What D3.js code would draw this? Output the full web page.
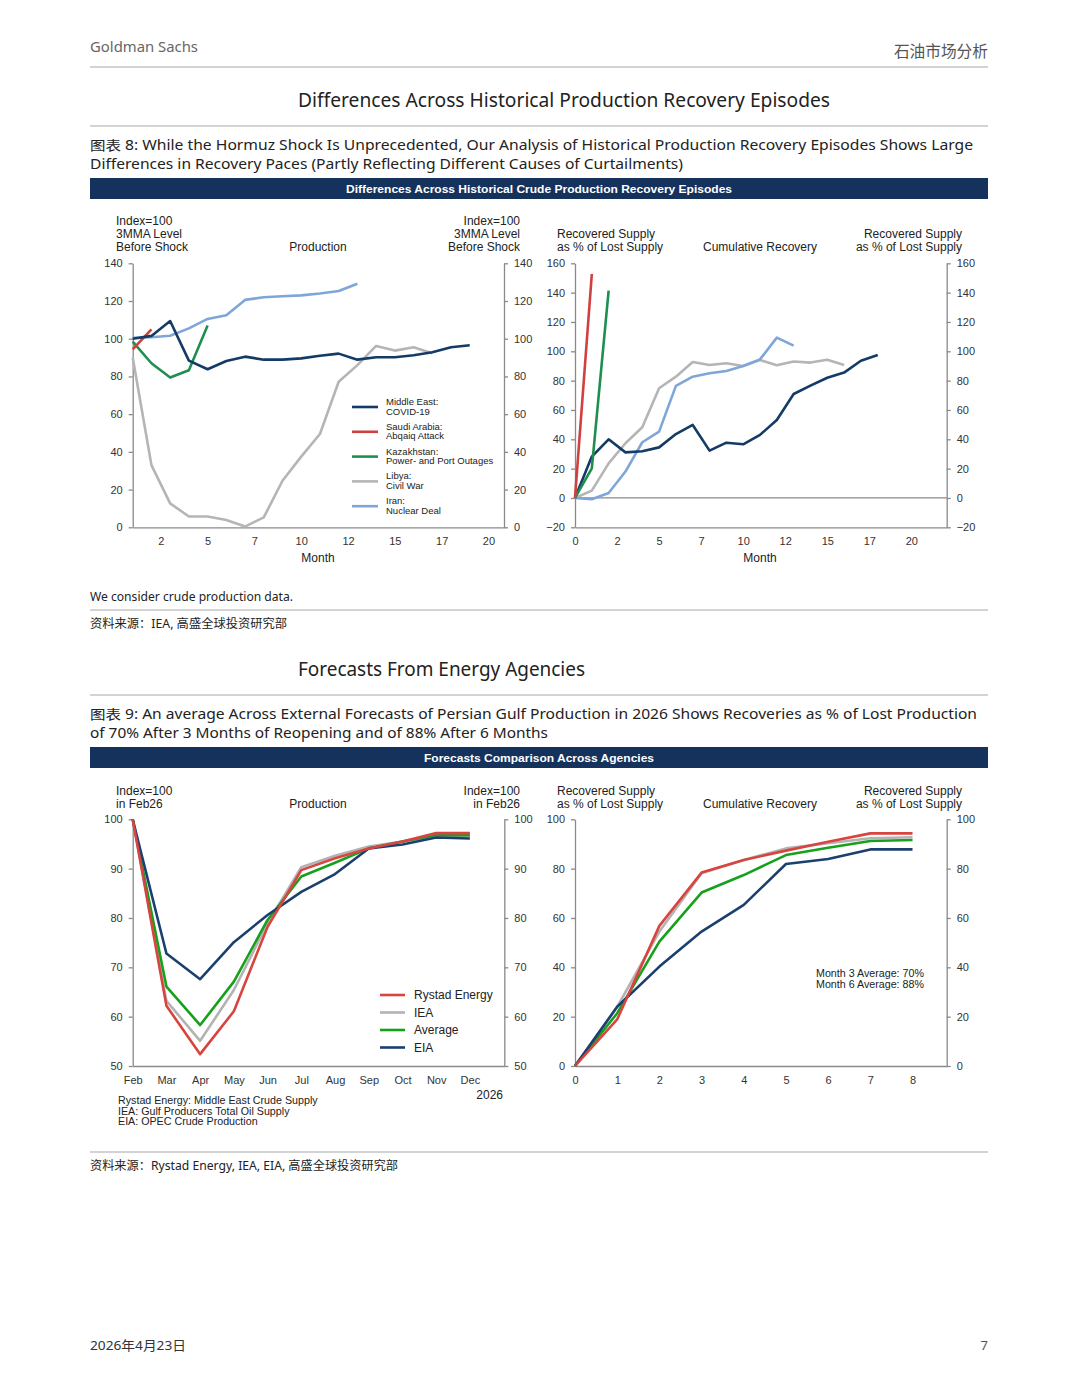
<!DOCTYPE html>
<html lang="en">
<head>
<meta charset="UTF-8">
<title>Oil recovery episodes</title>
<script src="https://d3js.org/d3.v7.min.js"></script>
<style>
  body { margin: 0; background: #fff; }
  svg text { font-family: "Liberation Sans", Arial, sans-serif; }
  .doc { font-family: "Noto Sans", "Noto Sans CJK SC", sans-serif !important; }
  .cjk { font-family: "Noto Sans CJK SC", sans-serif !important; }
  .axis path, .axis line { stroke: #8a8a8a; stroke-width: 1.3; }
  .axis text { font-size: 11px; fill: #333; font-family: "Liberation Sans", Arial, sans-serif; }
</style>
</head>
<body>
<svg id="page" width="1080" height="1398"></svg>
<script>
// ---- chart 8: historical episodes (months from 1 on the production panel, from 0 on the recovery panel)
const episodeNames = ['Middle East:|COVID-19', 'Saudi Arabia:|Abqaiq Attack', 'Kazakhstan:|Power- and Port Outages', 'Libya:|Civil War', 'Iran:|Nuclear Deal'];
const episodeColors = ['#143a66', '#cf4040', '#1f8f50', '#b5b5b5', '#7fa6d8'];

const prodMidEast = [100, 101.5, 109.4, 88.4, 83.8, 88.2, 90.5, 88.9, 88.9, 89.6, 91, 92.1, 88.9, 90.2, 90.2, 91.2, 92.8, 95.5, 96.5];
const prodSaudi = [94.4, 105];
const prodKazakh = [98.5, 87, 79.4, 83.3, 107];
const prodLibya = [90, 33, 12.7, 5.7, 5.7, 3.9, 0.4, 5.3, 24.7, 37.5, 49.5, 77.2, 86, 96.2, 93.7, 95.5, 92.3];
const prodIran = [100.5, 100.8, 101.6, 105.5, 110.5, 112.4, 120.6, 122, 122.5, 123, 124, 125.3, 129.2];

const recMidEast = [0, 28.2, 40, 31.1, 31.8, 34.5, 43.6, 49.8, 32.3, 37.7, 36.6, 43, 53.2, 70.9, 76.6, 82, 85.5, 93.6, 97.5];
const recSaudi = [0, 152.7];
const recKazakh = [0, 20.2, 141.4];
const recLibya = [0, 5, 23.6, 37.3, 48.2, 74.8, 82.7, 92.7, 90.7, 91.8, 90, 94, 90.5, 93, 92.3, 94.3, 90.7];
const recIran = [0, -0.9, 3.4, 18, 38, 45.2, 76.4, 82.7, 85, 86.6, 90, 94.5, 109.3, 103.9];

const histMonthTicks = [2.5, 5, 7.5, 10, 12.5, 15, 17.5, 20];
const prodTicks = [0, 20, 40, 60, 80, 100, 120, 140];
const recTicks = [-20, 0, 20, 40, 60, 80, 100, 120, 140, 160];

// ---- chart 9: agency forecasts for 2026
const monthLabels = ['Feb', 'Mar', 'Apr', 'May', 'Jun', 'Jul', 'Aug', 'Sep', 'Oct', 'Nov', 'Dec'];
const agencyNames = ['Rystad Energy', 'IEA', 'Average', 'EIA'];
const agencyColors = ['#d8443f', '#b3b3b3', '#17a01c', '#1b3f6e'];

const fcRystad = [100, 62.2, 52.4, 61.1, 78.2, 89.7, 92.1, 94.1, 95.5, 97.2, 97.2];
const fcIEA = [100, 63.2, 55.1, 65.4, 78.9, 90.3, 92.6, 94.5, 95.5, 96.6, 96.6];
const fcAverage = [100, 66.1, 58.3, 67.1, 79.6, 88.4, 91.2, 94.1, 95.5, 96.8, 96.8];
const fcEIA = [100, 72.8, 67.6, 75.1, 80.6, 85.3, 88.9, 94.1, 94.9, 96.3, 96.1];

const cumRystad = [0, 18.9, 56.8, 78.4, 83.5, 87.3, 90.9, 94.3, 94.3];
const cumIEA = [0, 24, 54.5, 78.1, 83.5, 88.2, 90.3, 92.3, 92.7];
const cumAverage = [0, 21.4, 50.4, 70.3, 77.4, 85.5, 88.5, 91.2, 91.6];
const cumEIA = [0, 24, 40.3, 54.5, 65.3, 81.9, 83.9, 87.8, 87.8];

const fcTicks = [50, 60, 70, 80, 90, 100];
const cumTicks = [0, 20, 40, 60, 80, 100];
const cumMonthTicks = [0, 1, 2, 3, 4, 5, 6, 7, 8];

const svg = d3.select('#page');

function txt(x, y, s, o = {}) {
  const t = svg.append('text')
    .attr('x', x).attr('y', y)
    .attr('font-size', o.size || 12)
    .attr('fill', o.fill || '#222')
    .attr('text-anchor', o.anchor || 'start')
    .text(s);
  if (o.cls) t.attr('class', o.cls);
  if (o.weight) t.attr('font-weight', o.weight);
  if (o.len) t.attr('textLength', o.len).attr('lengthAdjust', 'spacingAndGlyphs');
  return t;
}
function rule(y) {
  svg.append('line').attr('x1', 90).attr('x2', 988).attr('y1', y).attr('y2', y)
    .attr('stroke', '#a8a8a8').attr('stroke-width', 1.2);
}
function banner(y, s, len) {
  svg.append('rect').attr('x', 90).attr('y', y).attr('width', 898).attr('height', 21).attr('fill', '#14325c');
  txt(539, y + 14.5, s, { size: 11, fill: '#fff', anchor: 'middle', weight: 'bold', len: len });
}
// figure caption, two lines; sizes kept so the line boxes do not touch
function caption(y, line1, len1, line2, len2) {
  txt(90, y, '图表', { cls: 'cjk', size: 12.8, fill: '#222', len: 31 });
  txt(125, y, line1, { cls: 'doc', size: 13.8, fill: '#222', len: len1 });
  txt(90, y + 19, line2, { cls: 'doc', size: 13.8, fill: '#222', len: len2 });
}

// ---- page furniture
txt(90, 52, 'Goldman Sachs', { cls: 'doc', size: 15, fill: '#666', len: 108 });
txt(988, 57, '石油市场分析', { cls: 'doc', size: 15.7, fill: '#555', anchor: 'end' });
rule(67);
txt(298, 107, 'Differences Across Historical Production Recovery Episodes', { cls: 'doc', size: 20, fill: '#222', len: 532 });
rule(126);
caption(150, '8: While the Hormuz Shock Is Unprecedented, Our Analysis of Historical Production Recovery Episodes Shows Large', 848,
  'Differences in Recovery Paces (Partly Reflecting Different Causes of Curtailments)', 593);
banner(178, 'Differences Across Historical Crude Production Recovery Episodes', 386);

txt(90, 601, 'We consider crude production data.', { cls: 'doc', size: 12.5, fill: '#222', len: 203 });
rule(610);
txt(90, 628, '资料来源：IEA, 高盛全球投资研究部', { cls: 'doc', size: 12, fill: '#222', len: 197 });
txt(298, 676, 'Forecasts From Energy Agencies', { cls: 'doc', size: 20, fill: '#222', len: 287 });
rule(695);
caption(719, '9: An average Across External Forecasts of Persian Gulf Production in 2026 Shows Recoveries as % of Lost Production', 852,
  'of 70% After 3 Months of Reopening and of 88% After 6 Months', 458);
banner(747, 'Forecasts Comparison Across Agencies', 230);

rule(1152);
txt(90, 1170, '资料来源：Rystad Energy, IEA, EIA, 高盛全球投资研究部', { cls: 'doc', size: 12, fill: '#222', len: 308 });
txt(90, 1350, '2026年4月23日', { cls: 'doc', size: 13, fill: '#333', len: 96 });
txt(988, 1350, '7', { cls: 'doc', size: 13, fill: '#555', anchor: 'end' });

// ---- generic panel
function panel(cfg) {
  const x = d3.scaleLinear().domain(cfg.xDomain).range([cfg.left, cfg.right]);
  const y = d3.scaleLinear().domain(cfg.yDomain).range([cfg.bottom, cfg.top]);

  const la = svg.append('g').attr('class', 'axis').attr('transform', `translate(${cfg.left},0)`)
    .call(d3.axisLeft(y).tickValues(cfg.yTicks).tickSize(4).tickSizeOuter(0).tickPadding(6));
  const ra = svg.append('g').attr('class', 'axis').attr('transform', `translate(${cfg.right},0)`)
    .call(d3.axisRight(y).tickValues(cfg.yTicks).tickSize(4).tickSizeOuter(0).tickPadding(6));
  svg.append('g').attr('class', 'axis').attr('transform', `translate(0,${cfg.bottom})`)
    .call(d3.axisBottom(x).tickValues(cfg.xTicks).tickSize(0).tickSizeOuter(0).tickPadding(10)
      .tickFormat(cfg.xFormat || (d => d)));
  [la, ra].forEach(a => a.selectAll('text').text(d => d < 0 ? '\u2212' + Math.abs(d) : d));

  if (cfg.zeroLine) {
    svg.append('line').attr('x1', cfg.left).attr('x2', cfg.right)
      .attr('y1', y(0)).attr('y2', y(0)).attr('stroke', '#8a8a8a').attr('stroke-width', 1.2);
  }

  const line = d3.line().x(d => x(d[0])).y(d => y(d[1]));
  cfg.series.forEach((s, i) => {
    const pts = s.map((v, k) => [k + cfg.x0, v]);
    svg.append('path').datum(pts).attr('d', line)
      .attr('fill', 'none').attr('stroke', cfg.colors[i]).attr('stroke-width', 2.6)
      .attr('stroke-linejoin', 'round');
  });
  return { x, y };
}

// ---- chart 8 left: production
panel({
  left: 132.7, right: 504, top: 263.3, bottom: 527.3,
  xDomain: [1, 20.83], yDomain: [0, 140], yTicks: prodTicks,
  xTicks: histMonthTicks, xFormat: d => Math.floor(d), x0: 1,
  series: [prodLibya, prodIran, prodKazakh, prodSaudi, prodMidEast],
  colors: [episodeColors[3], episodeColors[4], episodeColors[2], episodeColors[1], episodeColors[0]]
});
['Index=100', '3MMA Level', 'Before Shock'].forEach((s, i) => {
  txt(116, 225 + i * 13, s);
  txt(520, 225 + i * 13, s, { anchor: 'end' });
});
txt(318, 251, 'Production', { anchor: 'middle' });
txt(318, 562, 'Month', { anchor: 'middle' });

episodeNames.forEach((n, i) => {
  const ly = 407 + i * 24.8;
  svg.append('line').attr('x1', 352).attr('x2', 378).attr('y1', ly).attr('y2', ly)
    .attr('stroke', episodeColors[i]).attr('stroke-width', 2.6);
  const parts = n.split('|');
  txt(386, ly - 2, parts[0], { size: 9.5 });
  txt(386, ly + 7.5, parts[1], { size: 9.5 });
});

// ---- chart 8 right: cumulative recovery
panel({
  left: 575, right: 946.7, top: 263.3, bottom: 527.3,
  xDomain: [0, 22.1], yDomain: [-20, 160], yTicks: recTicks, zeroLine: true,
  xTicks: [0].concat(histMonthTicks), xFormat: d => Math.floor(d), x0: 0,
  series: [recLibya, recIran, recMidEast, recKazakh, recSaudi],
  colors: [episodeColors[3], episodeColors[4], episodeColors[0], episodeColors[2], episodeColors[1]]
});
['Recovered Supply', 'as % of Lost Supply'].forEach((s, i) => {
  txt(557, 238 + i * 13, s);
  txt(962, 238 + i * 13, s, { anchor: 'end' });
});
txt(760, 251, 'Cumulative Recovery', { anchor: 'middle' });
txt(760, 562, 'Month', { anchor: 'middle' });

// ---- chart 9 left: production forecasts
panel({
  left: 132.7, right: 504.3, top: 819.3, bottom: 1066,
  xDomain: [0, 11.02], yDomain: [50, 100], yTicks: fcTicks,
  xTicks: d3.range(monthLabels.length), xFormat: d => monthLabels[d], x0: 0,
  series: [fcIEA, fcAverage, fcEIA, fcRystad],
  colors: [agencyColors[1], agencyColors[2], agencyColors[3], agencyColors[0]]
});
['Index=100', 'in Feb26'].forEach((s, i) => {
  txt(116, 795 + i * 13, s);
  txt(520, 795 + i * 13, s, { anchor: 'end' });
});
txt(318, 808, 'Production', { anchor: 'middle' });
txt(503, 1099, '2026', { anchor: 'end' });
['Rystad Energy: Middle East Crude Supply', 'IEA: Gulf Producers Total Oil Supply', 'EIA: OPEC Crude Production']
  .forEach((s, i) => txt(118, 1104 + i * 10.5, s, { size: 10.7 }));

agencyNames.forEach((n, i) => {
  const ly = 995 + i * 17.5;
  svg.append('line').attr('x1', 380).attr('x2', 405).attr('y1', ly).attr('y2', ly)
    .attr('stroke', agencyColors[i]).attr('stroke-width', 2.6);
  txt(414, ly + 4, n, { size: 12 });
});

// ---- chart 9 right: cumulative recovery forecasts
panel({
  left: 575, right: 946.7, top: 819.3, bottom: 1066,
  xDomain: [0, 8.81], yDomain: [0, 100], yTicks: cumTicks,
  xTicks: cumMonthTicks, x0: 0,
  series: [cumIEA, cumAverage, cumEIA, cumRystad],
  colors: [agencyColors[1], agencyColors[2], agencyColors[3], agencyColors[0]]
});
['Recovered Supply', 'as % of Lost Supply'].forEach((s, i) => {
  txt(557, 795 + i * 13, s);
  txt(962, 795 + i * 13, s, { anchor: 'end' });
});
txt(760, 808, 'Cumulative Recovery', { anchor: 'middle' });
txt(816, 977, 'Month 3 Average: 70%', { size: 10.7 });
txt(816, 988, 'Month 6 Average: 88%', { size: 10.7 });
</script>
</body>
</html>
